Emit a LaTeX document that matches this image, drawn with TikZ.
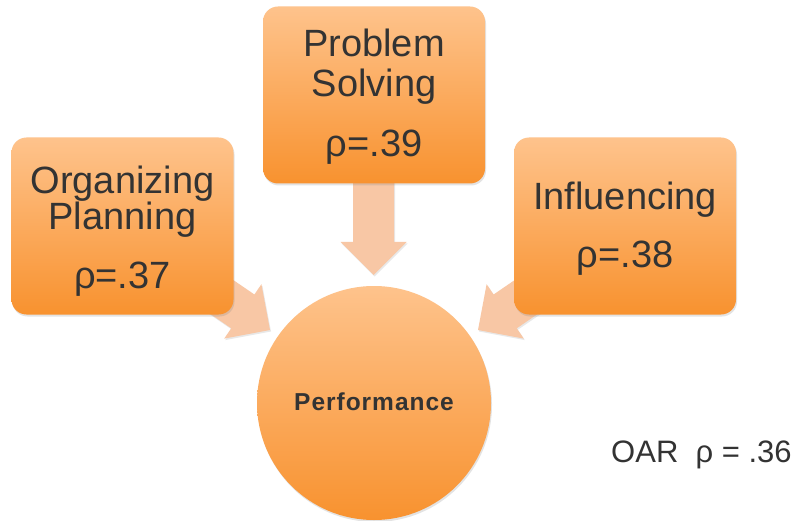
\documentclass[tikz,border=0pt]{standalone}
\usepackage{fontspec}
\setmainfont{Liberation Sans}
\usetikzlibrary{shadows}
\definecolor{boxtop}{HTML}{FEC38C}
\definecolor{boxbot}{HTML}{F8922F}
\definecolor{arrowc}{HTML}{F8C7A5}
\definecolor{txt}{HTML}{333333}
\begin{document}
\begin{tikzpicture}[x=1pt,y=-1pt,
  shade box/.style={draw=none, top color=boxtop, bottom color=boxbot,
     drop shadow={opacity=0.22, shadow xshift=1pt, shadow yshift=-2pt}},
  boxnode/.style={shade box, rectangle, rounded corners=15pt,
     minimum width=222pt, minimum height=177pt, inner sep=0pt},
  circnode/.style={shade box, circle, minimum size=234pt, inner sep=0pt},
  blockarrow/.style={fill=arrowc, draw=none,
     drop shadow={opacity=0.18, shadow xshift=1pt, shadow yshift=-1.5pt}},
  lbl/.style={anchor=base, text=txt, inner sep=0pt, font=\fontsize{38}{40}\selectfont},
  perf/.style={anchor=base, text=txt, inner sep=0pt, font=\fontsize{24.5}{26}\selectfont\bfseries},
  oar/.style={anchor=base west, text=txt, inner sep=0pt, font=\fontsize{31}{33}\selectfont}]
\useasboundingbox[fill=white] (0,0) rectangle (797,521);

% block arrows (drawn first, boxes overlap their tails)
\path[blockarrow] (270,330) -- (224.2,338.6) -- (231.2,328.3) -- (165.2,283.1)
   -- (188.4,249.3) -- (254.4,294.5) -- (261.4,284.2) -- cycle;
\path[blockarrow] (478,330) -- (523.8,338.6) -- (516.8,328.3) -- (582.8,283.1)
   -- (559.6,249.3) -- (493.6,294.5) -- (486.6,284.2) -- cycle;
\path[blockarrow] (373.5,275) -- (340.5,242) -- (353,242) -- (353,170)
   -- (394,170) -- (394,242) -- (406.5,242) -- cycle;

% boxes
\node[boxnode] (org) at (122.5,226) {};
\node[boxnode] (prob) at (374,95) {};
\node[boxnode] (infl) at (625,226) {};
\node[circnode] (perfc) at (374,403) {};

% texts
\node[lbl] (o1) at (122.5,194) {Organizing};
\node[lbl] (o2) at (122.5,230) {Planning};
\node[lbl] (o3) at (122.5,288) {ρ=.37};
\node[lbl] (p1) at (374,57) {Problem};
\node[lbl] (p2) at (374,97) {Solving};
\node[lbl] (p3) at (374,157) {ρ=.39};
\node[lbl] (i1) at (625,210) {Influencing};
\node[lbl] (i2) at (625,267) {ρ=.38};
\node[perf] (pt) at (374,410) {\addfontfeature{LetterSpace=4}Performance};
\node[oar] (oart) at (611,462) {OAR\ \ ρ = .36};
\end{tikzpicture}
\end{document}
